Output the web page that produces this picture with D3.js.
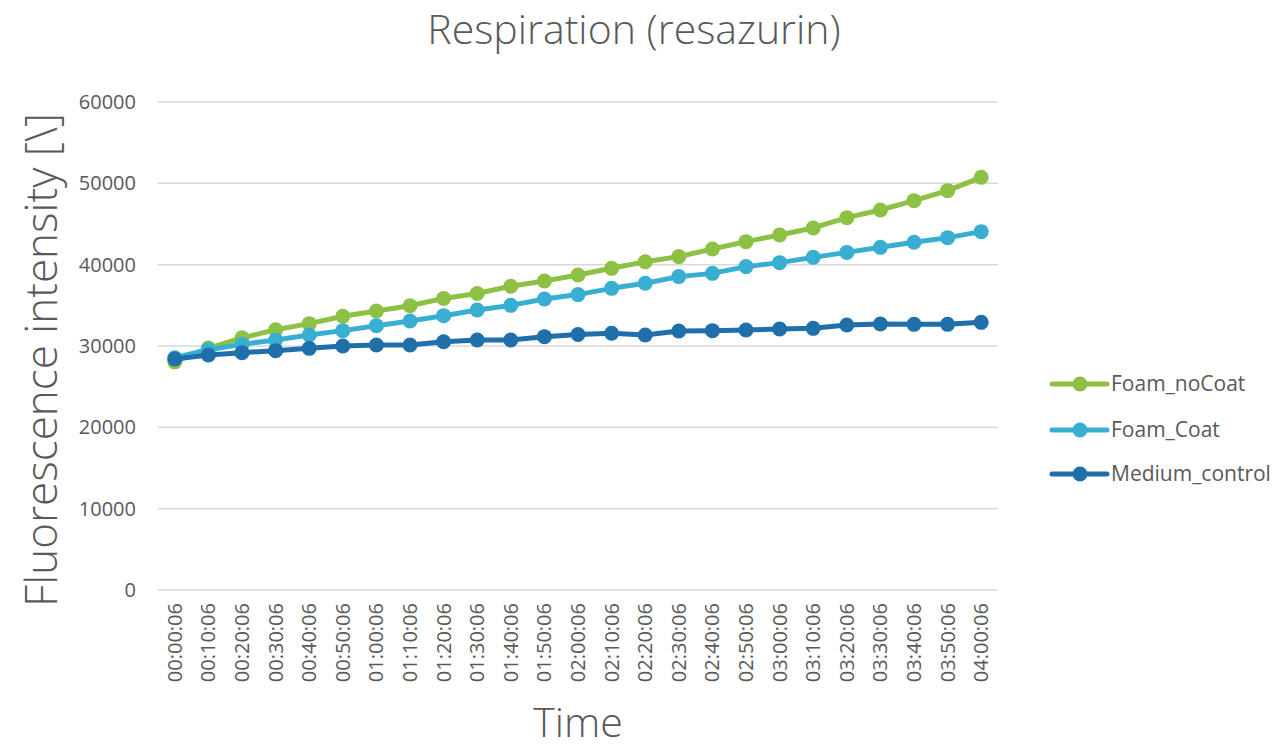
<!DOCTYPE html>
<html>
<head>
<meta charset="utf-8">
<script src="https://cdn.jsdelivr.net/npm/d3@7"></script>
<style>
  html, body { margin: 0; padding: 0; background: #fff; }
  svg { display: block; }
  text { font-family: "Open Sans", "Noto Sans", sans-serif; }
</style>
</head>
<body>
<svg id="chart" width="1281" height="750"></svg>
<script>
// Sampling times (every 10 minutes)
const times = [
  "00:00:06","00:10:06","00:20:06","00:30:06","00:40:06","00:50:06",
  "01:00:06","01:10:06","01:20:06","01:30:06","01:40:06","01:50:06",
  "02:00:06","02:10:06","02:20:06","02:30:06","02:40:06","02:50:06",
  "03:00:06","03:10:06","03:20:06","03:30:06","03:40:06","03:50:06",
  "04:00:06"
];

const foamNoCoat = [
  28050, 29750, 31000, 32000, 32750, 33650, 34300, 34950, 35850, 36450,
  37350, 38000, 38730, 39550, 40350, 40990, 41930, 42830, 43650, 44510,
  45780, 46720, 47870, 49100, 50740
];

const foamCoat = [
  28550, 29550, 30200, 30740, 31350, 31890, 32500, 33070, 33730, 34430,
  35000, 35780, 36320, 37090, 37710, 38530, 38930, 39760, 40250, 40900,
  41510, 42130, 42750, 43320, 44060
];

const mediumControl = [
  28400, 28900, 29180, 29430, 29710, 30000, 30120, 30120, 30530, 30740,
  30740, 31150, 31420, 31560, 31350, 31850, 31890, 31970, 32090, 32170,
  32580, 32700, 32660, 32660, 32910
];

const seriesNames = ["Foam_noCoat", "Foam_Coat", "Medium_control"];
const yTicks = [0, 10000, 20000, 30000, 40000, 50000, 60000];

const series = [
  { name: seriesNames[0], values: foamNoCoat,    color: "#8cc144" },
  { name: seriesNames[1], values: foamCoat,      color: "#38afd2" },
  { name: seriesNames[2], values: mediumControl, color: "#1f6fab" }
];

const svg = d3.select("#chart");
const plot = { left: 158, right: 998, top: 102, bottom: 590 };

const x = d3.scaleBand().domain(times).range([plot.left, plot.right]).padding(0);
const y = d3.scaleLinear().domain([0, 60000]).range([plot.bottom, plot.top]);
const cx = d => x(d) + x.bandwidth() / 2;

// Horizontal gridlines
svg.append("g")
  .selectAll("line")
  .data(yTicks)
  .join("line")
  .attr("x1", plot.left).attr("x2", plot.right)
  .attr("y1", d => y(d)).attr("y2", d => y(d))
  .attr("stroke", "#d9d9d9").attr("stroke-width", 1.5);

// Y axis labels
const yAxis = d3.axisLeft(y).tickValues(yTicks).tickSize(0).tickPadding(22)
  .tickFormat(d3.format("d"));
svg.append("g")
  .attr("transform", `translate(${plot.left},0)`)
  .call(yAxis)
  .call(g => g.select(".domain").remove())
  .selectAll("text")
  .attr("fill", "#595959")
  .style("font-size", "20px")
  .style("font-family", "'Open Sans', sans-serif");

// X axis labels, rotated
const xAxis = d3.axisBottom(x).tickSize(0).tickPadding(0);
svg.append("g")
  .attr("transform", `translate(0,${plot.bottom})`)
  .call(xAxis)
  .call(g => g.select(".domain").remove())
  .selectAll("text")
  .attr("fill", "#595959")
  .style("font-size", "20px")
  .style("font-family", "'Open Sans', sans-serif")
  .attr("text-anchor", "end")
  .attr("dy", "0.35em")
  .attr("transform", "translate(0,13) rotate(-90)")
  .attr("x", 0).attr("y", 0);

// Lines and markers
const line = d3.line()
  .x((d, i) => cx(times[i]))
  .y(d => y(d));

series.forEach(s => {
  svg.append("path")
    .datum(s.values)
    .attr("fill", "none")
    .attr("stroke", s.color)
    .attr("stroke-width", 5)
    .attr("stroke-linejoin", "round")
    .attr("d", line);
  svg.append("g")
    .selectAll("circle")
    .data(s.values)
    .join("circle")
    .attr("cx", (d, i) => cx(times[i]))
    .attr("cy", d => y(d))
    .attr("r", 7.5)
    .attr("fill", s.color);
});

// Title
svg.append("text")
  .attr("x", 634).attr("y", 44)
  .attr("text-anchor", "middle")
  .attr("fill", "#595959")
  .style("font-size", "41px")
  .style("font-weight", 300)
  .text("Respiration (resazurin)");

// Axis titles
svg.append("text")
  .attr("transform", "translate(57,360) rotate(-90)")
  .attr("text-anchor", "middle")
  .attr("fill", "#595959")
  .style("font-size", "44px")
  .style("font-weight", 300)
  .text("Fluorescence intensity [\\]");

svg.append("text")
  .attr("x", 578).attr("y", 737)
  .attr("text-anchor", "middle")
  .attr("fill", "#595959")
  .style("font-size", "41px")
  .style("font-weight", 300)
  .text("Time");

// Legend
const legend = svg.append("g");
const legendY = [384, 430, 474];
series.forEach((s, i) => {
  const g = legend.append("g").attr("transform", `translate(0,${legendY[i]})`);
  g.append("line")
    .attr("x1", 1052).attr("x2", 1107)
    .attr("stroke", s.color).attr("stroke-width", 5).attr("stroke-linecap", "round");
  g.append("circle").attr("cx", 1080).attr("r", 7.5).attr("fill", s.color);
  g.append("text")
    .attr("x", 1111).attr("dy", "0.35em")
    .attr("fill", "#595959")
    .style("font-size", "21px")
    .text(s.name);
});
</script>
</body>
</html>
